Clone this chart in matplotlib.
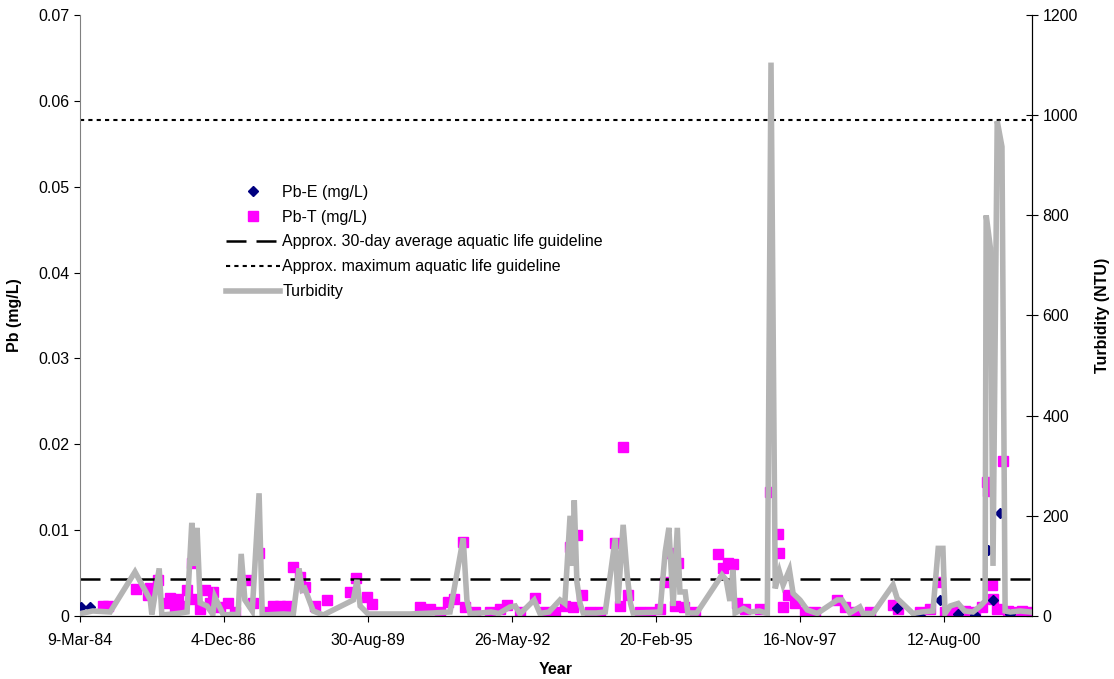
import matplotlib
matplotlib.use('Agg')
import matplotlib.pyplot as plt
from matplotlib.lines import Line2D
import pandas as pd
import numpy as np

plt.rcParams['font.family'] = ['Liberation Sans', 'DejaVu Sans']
plt.rcParams['font.size'] = 11.5

# turbidity (decimal year, NTU)
turb_year = [1984.20, 1984.43, 1984.76, 1985.23, 1985.52, 1985.55, 1985.69, 1985.74, 1985.95, 1986.10,
             1986.22, 1986.31, 1986.36, 1986.41, 1986.47, 1986.60, 1986.71, 1986.75, 1986.91, 1987.05,
             1987.19, 1987.25, 1987.32, 1987.46, 1987.59, 1987.65, 1987.85, 1988.05, 1988.24, 1988.35,
             1988.41, 1988.46, 1988.62, 1988.81, 1989.38, 1989.45, 1989.51, 1989.66, 1990.46, 1990.90,
             1991.22, 1991.47, 1991.54, 1991.60, 1991.80, 1992.00, 1992.15, 1992.36, 1992.46, 1992.55,
             1992.82, 1992.93, 1993.10, 1993.31, 1993.40, 1993.50, 1993.55, 1993.58, 1993.63, 1993.69,
             1993.75, 1994.00, 1994.17, 1994.36, 1994.41, 1994.51, 1994.59, 1994.65, 1994.70, 1995.00,
             1995.21, 1995.31, 1995.38, 1995.46, 1995.54, 1995.59, 1995.69, 1995.74, 1995.91, 1996.39,
             1996.47, 1996.54, 1996.60, 1996.64, 1996.80, 1996.92, 1997.10, 1997.25, 1997.32, 1997.40,
             1997.48, 1997.55, 1997.67, 1997.74, 1997.87, 1998.01, 1998.20, 1998.58, 1998.67, 1998.82,
             1999.01, 1999.07, 1999.26, 1999.64, 1999.72, 2000.02, 2000.19, 2000.40, 2000.50, 2000.59,
             2000.63, 2000.73, 2000.88, 2001.00, 2001.16, 2001.30, 2001.39, 2001.41, 2001.49, 2001.54,
             2001.62, 2001.71, 2001.77, 2001.87, 2002.06, 2002.25]
turb_ntu = [5, 10, 8, 88, 32, 3, 95, 2, 4, 6,
            8, 186, 100, 176, 26, 20, 3, 38, 2, 3,
            3, 124, 32, 10, 245, 2, 3, 4, 3, 95,
            52, 55, 10, 2, 32, 72, 20, 4, 4, 6,
            8, 155, 32, 5, 6, 8, 5, 18, 20, 4,
            32, 5, 8, 32, 25, 200, 100, 231, 68, 25,
            6, 6, 8, 155, 25, 182, 78, 25, 6, 7,
            8, 128, 176, 20, 176, 48, 48, 6, 6, 82,
            72, 30, 92, 6, 15, 8, 10, 5, 1105, 55,
            88, 62, 92, 45, 32, 12, 5, 32, 32, 6,
            18, 5, 5, 62, 35, 5, 8, 10, 135, 135,
            5, 20, 25, 10, 8, 20, 30, 800, 735, 100,
            988, 937, 10, 8, 10, 8]

# total lead (decimal year, mg/L)
pbt_year = [1984.62, 1984.72, 1985.25, 1985.52, 1985.48, 1985.67, 1985.80, 1985.90, 1985.99, 1986.05,
            1986.14, 1986.22, 1986.31, 1986.35, 1986.47, 1986.56, 1986.66, 1986.71, 1986.85, 1987.00,
            1987.13, 1987.36, 1987.47, 1987.59, 1987.72, 1987.85, 1987.99, 1988.12, 1988.24, 1988.37,
            1988.46, 1988.65, 1988.88, 1989.32, 1989.43, 1989.64, 1989.74, 1990.65, 1990.84, 1991.03,
            1991.18, 1991.30, 1991.47, 1991.51, 1991.70, 1991.98, 1992.17, 1992.30, 1992.55, 1992.84,
            1993.03, 1993.22, 1993.41, 1993.50, 1993.56, 1993.63, 1993.73, 1993.88, 1994.07, 1994.36,
            1994.45, 1994.51, 1994.60, 1994.83, 1995.02, 1995.21, 1995.31, 1995.42, 1995.50, 1995.56,
            1995.67, 1995.88, 1996.31, 1996.41, 1996.50, 1996.60, 1996.68, 1996.83, 1997.11, 1997.30,
            1997.45, 1997.48, 1997.55, 1997.65, 1997.78, 1997.97, 1998.16, 1998.58, 1998.73, 1998.92,
            1999.20, 1999.64, 1999.74, 2000.16, 2000.34, 2000.54, 2000.63, 2000.82, 2001.01, 2001.20,
            2001.33, 2001.43, 2001.44, 2001.52, 2001.54, 2001.62, 2001.73, 2001.83, 2001.96, 2002.09,
            2002.25]
pbt_val = [0.0012, 0.0012, 0.0031, 0.0033, 0.0025, 0.0042, 0.0015, 0.0021, 0.0008, 0.0020,
           0.0012, 0.0030, 0.0062, 0.0020, 0.0008, 0.0030, 0.0015, 0.0028, 0.0010, 0.0015,
           0.0005, 0.0042, 0.0015, 0.0073, 0.0005, 0.0012, 0.0012, 0.0012, 0.0057, 0.0045,
           0.0034, 0.0012, 0.0019, 0.0028, 0.0044, 0.0022, 0.0014, 0.0010, 0.0008, 0.0005,
           0.0016, 0.0020, 0.0086, 0.0010, 0.0005, 0.0005, 0.0008, 0.0013, 0.0005, 0.0021,
           0.0005, 0.0005, 0.0012, 0.0080, 0.0010, 0.0094, 0.0025, 0.0005, 0.0005, 0.0085,
           0.0012, 0.0197, 0.0025, 0.0005, 0.0005, 0.0008, 0.0040, 0.0073, 0.0012, 0.0062,
           0.0010, 0.0005, 0.0072, 0.0056, 0.0062, 0.0060, 0.0015, 0.0008, 0.0008, 0.0144,
           0.0096, 0.0073, 0.0010, 0.0024, 0.0015, 0.0005, 0.0005, 0.0019, 0.0010, 0.0005,
           0.0005, 0.0013, 0.0008, 0.0005, 0.0008, 0.0040, 0.0005, 0.0007, 0.0006, 0.0005,
           0.0010, 0.0156, 0.0145, 0.0036, 0.0020, 0.0008, 0.0180, 0.0006, 0.0005, 0.0006,
           0.0005]

# extractable lead (decimal year, mg/L)
pbe_year = [1984.20, 1984.38, 1999.72, 2000.16, 2000.54, 2000.88, 2001.20, 2001.44, 2001.54, 2001.67, 2001.87]
pbe_val = [0.0010, 0.0010, 0.0009, 0.0000, 0.0019, 0.0002, 0.0001, 0.0077, 0.0019, 0.0120, 0.0002]

guide_30day = 0.0043
guide_max = 0.0578


def to_dates(years):
    years = np.asarray(years)
    base = pd.to_datetime((years // 1).astype(int).astype(str), format='%Y')
    return base + pd.to_timedelta((years % 1) * 365.25, unit='D')


fig = plt.figure(figsize=(11.14, 6.79), dpi=100)
ax = fig.add_axes([0.0718, 0.0928, 0.8546, 0.8851])
ax2 = ax.twinx()

ax.plot(to_dates(pbe_year), pbe_val, linestyle='none', marker='D', color='#000080', markersize=5.5, zorder=3)
ax.plot(to_dates(pbt_year), pbt_val, linestyle='none', marker='s', color='#ff00ff', markersize=6.5, zorder=2)
ax.axhline(guide_30day, color='black', lw=1.8, dashes=(8, 4))
ax.axhline(guide_max, color='black', lw=1.5, dashes=(2, 2))

ax2.plot(to_dates(turb_year), turb_ntu, color='#b4b4b4', lw=4, solid_joinstyle='miter')

start = pd.Timestamp('1984-03-09')
ticks = [start + pd.Timedelta(days=1000 * k) for k in range(7)]
ax.set_xlim(start, pd.Timestamp('2002-04-14'))
ax.set_xticks(ticks)
ax.set_xticklabels([t.strftime('%-d-%b-%y') for t in ticks])

ax.set_ylim(0, 0.07)
ax.set_yticks(np.arange(0, 0.0701, 0.01))
ax.set_yticklabels(['0'] + ['%.2f' % v for v in np.arange(0.01, 0.0701, 0.01)])
ax2.set_ylim(0, 1200)
ax2.set_yticks(range(0, 1201, 200))

ax.set_xlabel('Year', fontweight='bold', labelpad=10)
ax.set_ylabel('Pb (mg/L)', fontweight='bold', labelpad=12)
ax2.set_ylabel('Turbidity (NTU)', fontweight='bold', labelpad=12)

for a in (ax, ax2):
    a.spines['top'].set_visible(False)
ax.spines['left'].set_color('#808080')
ax2.spines['left'].set_visible(False)
ax.tick_params(axis='y', direction='out', length=4)
ax.tick_params(axis='x', direction='out', length=4, pad=8)
ax2.tick_params(axis='y', direction='inout', length=8)

handles = [
    Line2D([], [], linestyle='none', marker='D', color='#000080', markersize=5.5),
    Line2D([], [], linestyle='none', marker='s', color='#ff00ff', markersize=6.5),
    Line2D([], [], color='black', lw=1.8, dashes=(8, 4)),
    Line2D([], [], color='black', lw=1.5, dashes=(2, 2)),
    Line2D([], [], color='#b4b4b4', lw=4),
]
labels = ['Pb-E (mg/L)', 'Pb-T (mg/L)', 'Approx. 30-day average aquatic life guideline',
          'Approx. maximum aquatic life guideline', 'Turbidity']
ax2.legend(handles, labels, loc='upper left', bbox_to_anchor=(0.1445, 0.731), frameon=False,
           handlelength=3.4, handletextpad=0.15, labelspacing=0.62, borderpad=0)

fig.savefig('out.png', dpi=100)
